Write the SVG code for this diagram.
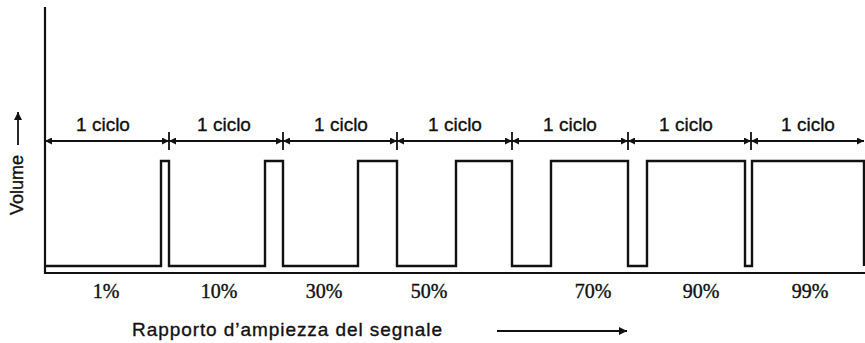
<svg xmlns="http://www.w3.org/2000/svg" width="865" height="343" viewBox="0 0 865 343">
<style>
.lbl{font-family:"Liberation Sans",Arial,sans-serif;font-size:19px;fill:#111;stroke:#111;stroke-width:0.35;text-anchor:middle}
.pct{font-family:"Liberation Serif","Times New Roman",serif;font-size:20px;fill:#111;stroke:#111;stroke-width:0.4;text-anchor:middle}
.ax{fill:none;stroke:#111;stroke-width:2.2}
.dim{fill:none;stroke:#111;stroke-width:1.8}
.wave{fill:none;stroke:#111;stroke-width:2.4;stroke-linejoin:miter}
</style>
<defs>
<marker id="ah" viewBox="0 0 10 10" refX="10" refY="5" markerWidth="10" markerHeight="7" markerUnits="userSpaceOnUse" orient="auto-start-reverse">
<path d="M0,0 L10,5 L0,10 Z" fill="#111"/>
</marker>
<marker id="ah2" viewBox="0 0 10 10" refX="10" refY="5" markerWidth="11" markerHeight="8" markerUnits="userSpaceOnUse" orient="auto">
<path d="M0,0 L10,5 L0,10 Z" fill="#111"/>
</marker>
</defs>
<rect width="865" height="343" fill="#fff"/>
<g id="axes">
<path class="ax" d="M45,7 V273 H865"/>
</g>
<g id="waveform">
<path class="wave" d="M45,266 H161 V161 H169 V266 H265 V161 H283 V266 H358 V161 H397 V266 H456 V161 H512 V266 H551 V161 H628 V266 H647 V161 H745 V266 H752 V161 H864 V266"/>
</g>
<g id="connectors">
<line class="dim" x1="45" y1="141" x2="169" y2="141" marker-start="url(#ah)" marker-end="url(#ah)"/>
<line class="dim" x1="169" y1="141" x2="283" y2="141" marker-start="url(#ah)" marker-end="url(#ah)"/>
<line class="dim" x1="283" y1="141" x2="397" y2="141" marker-start="url(#ah)" marker-end="url(#ah)"/>
<line class="dim" x1="397" y1="141" x2="512" y2="141" marker-start="url(#ah)" marker-end="url(#ah)"/>
<line class="dim" x1="512" y1="141" x2="628" y2="141" marker-start="url(#ah)" marker-end="url(#ah)"/>
<line class="dim" x1="628" y1="141" x2="751" y2="141" marker-start="url(#ah)" marker-end="url(#ah)"/>
<line class="dim" x1="751" y1="141" x2="864" y2="141" marker-start="url(#ah)" marker-end="url(#ah)"/>
<path class="dim" d="M169,132 V150 M283,132 V150 M397,132 V150 M512,132 V150 M628,132 V150 M751,132 V150"/>
<line class="dim" x1="18" y1="145" x2="18" y2="112" marker-end="url(#ah2)"/>
<line class="dim" x1="497" y1="331" x2="627" y2="331" marker-end="url(#ah2)"/>
</g>
<g id="cycle-labels">
<text class="lbl" x="103" y="131">1 ciclo</text>
<text class="lbl" x="224" y="131">1 ciclo</text>
<text class="lbl" x="341" y="131">1 ciclo</text>
<text class="lbl" x="455" y="131">1 ciclo</text>
<text class="lbl" x="570" y="131">1 ciclo</text>
<text class="lbl" x="686" y="131">1 ciclo</text>
<text class="lbl" x="808" y="131">1 ciclo</text>
</g>
<g id="duty-labels">
<text class="pct" x="106" y="298">1%</text>
<text class="pct" x="219" y="298">10%</text>
<text class="pct" x="324" y="298">30%</text>
<text class="pct" x="429" y="298">50%</text>
<text class="pct" x="593" y="298">70%</text>
<text class="pct" x="701" y="298">90%</text>
<text class="pct" x="810" y="298">99%</text>
</g>
<g id="axis-titles">
<text class="lbl" style="text-anchor:start;font-size:18px" transform="translate(23,215) rotate(-90)">Volume</text>
<text class="lbl" style="text-anchor:start" x="132" y="336" textLength="310" lengthAdjust="spacing">Rapporto d’ampiezza del segnale</text>
</g>
</svg>
